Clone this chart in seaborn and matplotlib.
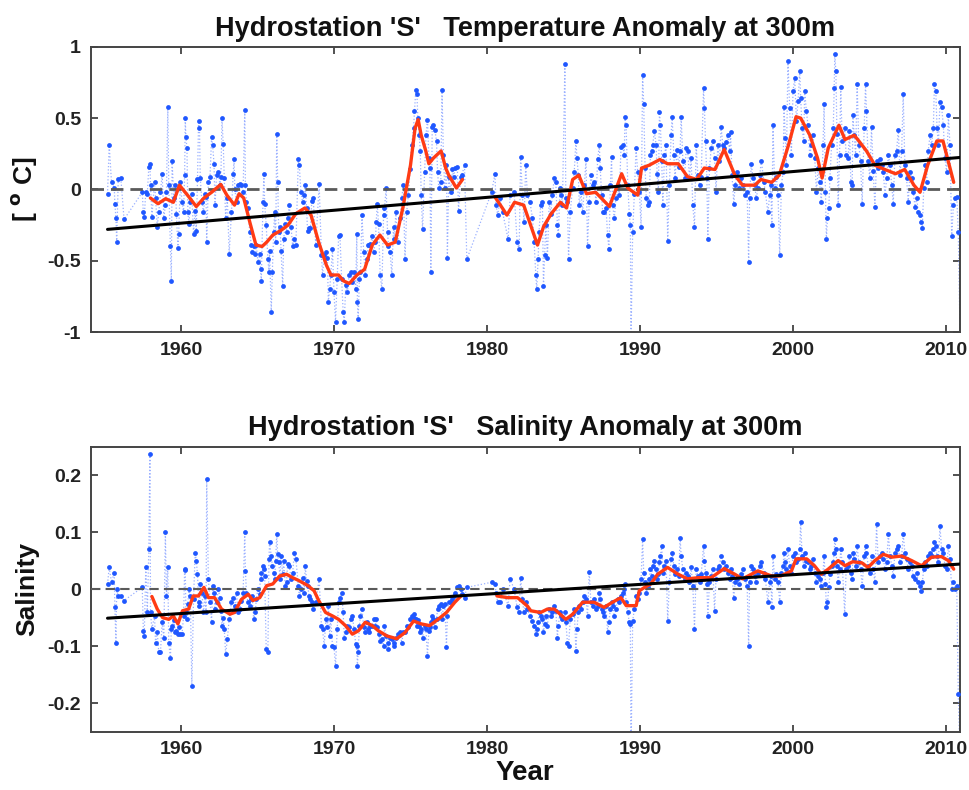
import numpy as np
import pandas as pd
import matplotlib
matplotlib.use("Agg")
import matplotlib.pyplot as plt
import seaborn as sns

# Hydrostation 'S' casts: sample time (decimal year), anomalies at 300 m
years = [
    1955.20, 1955.31, 1955.46, 1955.64, 1955.68, 1955.75, 1955.80, 1955.90, 1956.07, 1956.28,
    1957.47, 1957.54, 1957.60, 1957.70, 1957.80, 1957.90, 1957.97, 1958.01, 1958.10, 1958.27,
    1958.34, 1958.45, 1958.55, 1958.66, 1958.77, 1958.88, 1958.98, 1959.05, 1959.14, 1959.20,
    1959.31, 1959.37, 1959.42, 1959.53, 1959.64, 1959.70, 1959.80, 1959.85, 1959.96, 1960.07,
    1960.17, 1960.24, 1960.28, 1960.32, 1960.39, 1960.45, 1960.52, 1960.61, 1960.71, 1960.82,
    1960.93, 1961.00, 1961.08, 1961.15, 1961.21, 1961.26, 1961.37, 1961.47, 1961.58, 1961.64,
    1961.68, 1961.79, 1961.90, 1962.00, 1962.07, 1962.16, 1962.22, 1962.33, 1962.44, 1962.55,
    1962.61, 1962.68, 1962.76, 1962.83, 1962.92, 1963.03, 1963.15, 1963.30, 1963.41, 1963.47,
    1963.52, 1963.63, 1963.73, 1963.84, 1963.95, 1964.06, 1964.17, 1964.21, 1964.28,
    1964.38, 1964.49, 1964.60, 1964.66, 1964.75, 1964.86, 1964.92, 1965.03, 1965.14, 1965.20,
    1965.25, 1965.36, 1965.42, 1965.47, 1965.57, 1965.68, 1965.75, 1965.79, 1965.90, 1965.97,
    1966.06, 1966.12, 1966.19, 1966.26, 1966.32, 1966.39, 1966.48, 1966.54, 1966.65, 1966.71,
    1966.82, 1966.90, 1966.97, 1967.08, 1967.19, 1967.30, 1967.41, 1967.51, 1967.67, 1967.73,
    1967.84, 1967.95, 1968.06, 1968.12, 1968.21, 1968.27, 1968.38, 1968.46, 1968.55, 1968.64,
    1968.81, 1969.03, 1969.18, 1969.25, 1969.36, 1969.47, 1969.57, 1969.63, 1969.72, 1969.79,
    1969.90, 1970.00, 1970.10, 1970.21, 1970.30, 1970.39, 1970.50, 1970.60, 1970.67, 1970.77,
    1970.88, 1970.99, 1971.10, 1971.20, 1971.31, 1971.42, 1971.49, 1971.53, 1971.58, 1971.66,
    1971.73, 1971.83, 1971.94, 1972.05, 1972.16, 1972.23, 1972.32, 1972.38, 1972.48, 1972.59,
    1972.70, 1972.76, 1972.83, 1972.91, 1973.02, 1973.13, 1973.24, 1973.30, 1973.41, 1973.50,
    1973.56, 1973.67, 1973.78, 1973.89, 1973.95, 1974.04, 1974.17, 1974.32, 1974.43, 1974.53,
    1974.64, 1974.75, 1974.86, 1974.97, 1975.07, 1975.20, 1975.26, 1975.35, 1975.42, 1975.48,
    1975.57, 1975.64, 1975.70, 1975.79, 1975.92, 1976.01, 1976.11, 1976.20, 1976.27, 1976.33,
    1976.42, 1976.48, 1976.59, 1976.70, 1976.77, 1976.85, 1976.98, 1977.06, 1977.15, 1977.24,
    1977.35, 1977.41, 1977.50, 1977.63, 1977.74, 1977.82, 1977.93, 1978.06, 1978.14, 1978.27,
    1978.36, 1978.53, 1978.68,
    1980.30, 1980.52, 1980.59, 1980.70, 1980.87, 1981.02, 1981.38, 1981.51, 1981.77, 1981.97,
    1982.10, 1982.20, 1982.31, 1982.42,
    1982.53, 1982.64, 1982.81, 1982.97, 1983.08, 1983.19, 1983.25, 1983.34, 1983.40, 1983.51,
    1983.62, 1983.69, 1983.77, 1983.84, 1983.95, 1984.06, 1984.17, 1984.28, 1984.39, 1984.50,
    1984.60, 1984.66, 1984.77, 1984.86, 1984.93, 1985.09, 1985.15, 1985.26, 1985.33, 1985.44,
    1985.59, 1985.70, 1985.81, 1985.88, 1985.97, 1986.03, 1986.14, 1986.25, 1986.36, 1986.47,
    1986.57, 1986.68, 1986.79, 1986.90, 1987.01, 1987.12, 1987.23, 1987.34, 1987.40, 1987.49,
    1987.56, 1987.67, 1987.78, 1987.88, 1987.97, 1988.06, 1988.14, 1988.21, 1988.32, 1988.43,
    1988.54, 1988.65, 1988.76, 1988.86, 1988.97, 1989.02, 1989.09, 1989.20, 1989.30, 1989.37,
    1989.41, 1989.52, 1989.63, 1989.74, 1989.85, 1989.96, 1990.07,
    1990.17, 1990.24, 1990.33, 1990.41, 1990.50, 1990.61, 1990.68, 1990.76, 1990.83, 1990.94,
    1991.05, 1991.12, 1991.20, 1991.27, 1991.33, 1991.42, 1991.49, 1991.60, 1991.70, 1991.81,
    1991.92, 1992.03, 1992.10, 1992.21, 1992.29, 1992.42, 1992.53, 1992.62, 1992.69, 1992.80,
    1992.91, 1993.02, 1993.12, 1993.23, 1993.34, 1993.45, 1993.56, 1993.67, 1993.78, 1993.89,
    1994.00, 1994.15, 1994.21, 1994.28, 1994.37, 1994.43, 1994.54, 1994.65, 1994.76, 1994.87,
    1994.97, 1995.08, 1995.19, 1995.30, 1995.41, 1995.52, 1995.63, 1995.74, 1995.85, 1995.92,
    1996.01, 1996.13, 1996.22, 1996.35, 1996.50, 1996.61, 1996.72, 1996.83, 1997.00, 1997.10,
    1997.16, 1997.27, 1997.38, 1997.49, 1997.60, 1997.71, 1997.82, 1997.93, 1998.10, 1998.19,
    1998.36, 1998.47, 1998.54, 1998.62, 1998.69, 1998.80, 1998.91, 1999.02, 1999.13, 1999.24,
    1999.35, 1999.41, 1999.50, 1999.56, 1999.67, 1999.78, 1999.89, 2000.00, 2000.11, 2000.22,
    2000.33, 2000.44, 2000.50, 2000.59, 2000.70, 2000.76, 2000.87, 2000.98, 2001.09, 2001.20,
    2001.31, 2001.42, 2001.53, 2001.64, 2001.74, 2001.85, 2001.96, 2002.03, 2002.12, 2002.18,
    2002.25, 2002.34, 2002.41, 2002.52, 2002.63, 2002.69, 2002.73, 2002.80, 2002.87, 2002.95,
    2003.04, 2003.12, 2003.21, 2003.38, 2003.47, 2003.60, 2003.69, 2003.78, 2003.87, 2003.91,
    2004.00, 2004.09, 2004.19, 2004.30, 2004.41, 2004.52, 2004.65, 2004.74, 2004.80, 2004.91,
    2005.02, 2005.13, 2005.24, 2005.35, 2005.46, 2005.57, 2005.68, 2005.79, 2005.90, 2006.01,
    2006.12, 2006.23, 2006.34, 2006.45, 2006.55, 2006.66, 2006.77, 2006.88, 2006.99, 2007.10,
    2007.20, 2007.31, 2007.42, 2007.53, 2007.64, 2007.75, 2007.86, 2007.97, 2008.08, 2008.19,
    2008.30, 2008.36, 2008.45, 2008.54, 2008.62, 2008.73, 2008.84, 2008.95, 2009.06, 2009.17,
    2009.24, 2009.33, 2009.41, 2009.50, 2009.60, 2009.71, 2009.82, 2009.93, 2010.04, 2010.15,
    2010.26, 2010.37, 2010.48, 2010.59, 2010.70, 2010.80, 2010.92,
]

temp = [
    -0.03, 0.31, 0.05, 0.01, -0.10, -0.20, -0.37, 0.07, 0.08, -0.21,
    -0.02, -0.16, -0.19, -0.02, -0.03, 0.16, 0.18, 0.03, -0.19, 0.05,
    -0.06, -0.26, -0.16, -0.02, 0.11, -0.20, -0.11, -0.02, 0.58, 0.03,
    -0.40, -0.64, 0.20, -0.06, 0.03, -0.17, -0.41, -0.31, 0.05, -0.09,
    -0.16, 0.10, 0.50, 0.37, 0.29, -0.16, -0.24, -0.09, -0.03, -0.31,
    -0.15, -0.29, 0.07, 0.48, 0.43, 0.08, -0.09, -0.16, -0.03, -0.05,
    -0.37, 0.05, 0.09, 0.37, 0.31, 0.18, -0.11, 0.10, 0.12, 0.03,
    0.09, 0.50, 0.32, 0.08, -0.20, -0.06, -0.45, -0.16, 0.11, 0.21,
    0.00, -0.09, 0.03, 0.04, 0.03, -0.02, 0.56, 0.03, -0.09,
    -0.13, -0.30, -0.39, -0.44, -0.40, -0.45, -0.39, -0.51, -0.45, -0.56,
    -0.64, -0.09, 0.11, -0.10, -0.25, -0.49, -0.58, -0.43, -0.86, -0.58,
    -0.30, -0.16, -0.37, 0.39, 0.05, -0.30, -0.26, -0.43, -0.68, -0.35,
    -0.24, -0.30, -0.20, -0.11, -0.26, -0.40, -0.35, -0.39, 0.21, 0.17,
    -0.02, -0.09, -0.04, 0.03, -0.13, -0.29, -0.27, -0.27, -0.08, -0.06,
    -0.39, 0.04, -0.46, -0.60, -0.46, -0.44, -0.48, -0.79, -0.70, -0.60,
    -0.42, -0.72, -0.93, -0.63, -0.33, -0.32, -0.63, -0.86, -0.93, -0.67,
    -0.72, -0.60, -0.58, -0.65, -0.58, -0.70, -0.31, -0.79, -0.91, -0.63,
    -0.58, -0.18, -0.44, -0.60, -0.49, -0.39, -0.39, -0.38, -0.33, -0.44,
    -0.37, -0.23, -0.10, -0.24, -0.60, -0.70, -0.18, -0.13, 0.01, -0.30,
    -0.40, -0.44, -0.60, -0.26, -0.35, -0.16, -0.37, -0.20, -0.06, 0.03,
    -0.49, -0.16, -0.04, 0.14, 0.31, 0.43, 0.55, 0.70, 0.67, 0.50,
    0.38, 0.27, -0.04, -0.28, 0.12, 0.38, 0.49, 0.22, 0.15, -0.58,
    0.44, 0.45, 0.42, 0.34, 0.12, 0.01, 0.05, 0.70, 0.24, 0.01,
    0.17, -0.48, 0.09, -0.02, 0.14, 0.09, 0.15, 0.16, -0.15, 0.09,
    0.10, 0.17, -0.49,
    -0.02, 0.11, -0.11, -0.18, -0.06, -0.16, -0.35, -0.04, -0.02, -0.37,
    -0.42, 0.23, -0.04, -0.23,
    0.17, -0.04, -0.09, -0.20, -0.37, -0.60, -0.70, -0.49, -0.30, -0.11,
    -0.09, -0.68, -0.46, -0.25, -0.48, -0.09, -0.17, -0.04, 0.08, 0.05,
    -0.25, -0.32, 0.01, -0.04, -0.11, 0.88, -0.06, -0.09, -0.49, -0.16,
    0.01, 0.12, 0.34, 0.22, 0.10, -0.11, -0.02, -0.16, 0.03, 0.21,
    -0.40, -0.09, 0.10, 0.03, 0.05, -0.09, 0.21, 0.31, 0.15, -0.04,
    -0.16, -0.16, -0.13, -0.32, -0.42, 0.03, 0.23, -0.11, -0.20, -0.06,
    0.03, -0.04, 0.30, 0.31, 0.24, 0.51, 0.45, 0.03, -0.17, -0.25,
    -1.08, -0.30, -0.03, 0.29, 0.12, -0.02, -0.26,
    0.80, 0.60, 0.15, -0.06, -0.11, -0.09, 0.24, 0.27, 0.31, 0.41,
    0.31, 0.11, -0.02, 0.54, 0.45, 0.20, -0.11, 0.24, 0.31, -0.36,
    0.03, 0.38, 0.51, 0.24, 0.08, 0.28, 0.16, 0.27, 0.51, 0.20,
    0.08, 0.29, 0.27, 0.08, 0.22, -0.11, -0.26, 0.31, 0.10, 0.03,
    0.09, 0.71, 0.57, 0.34, 0.08, -0.35, 0.15, 0.29, 0.34, 0.22,
    -0.02, 0.31, 0.20, 0.44, 0.31, 0.29, 0.33, 0.38, 0.27, 0.40,
    0.10, -0.10, 0.03, 0.12, 0.01, 0.08, 0.03, -0.04, -0.02, -0.51,
    -0.06, 0.18, 0.08, 0.03, -0.06, 0.01, 0.10, 0.20, 0.05, -0.02,
    -0.16, -0.04, 0.03, -0.25, 0.45, 0.01, 0.09, -0.04, -0.46, 0.03,
    0.12, 0.58, 0.36, 0.17, 0.90, 0.57, 0.24, 0.69, 0.78, 0.48,
    0.62, 0.83, 0.64, 0.43, 0.34, 0.69, 0.55, 0.45, 0.24, 0.31,
    0.38, 0.22, -0.02, 0.15, 0.05, -0.09, 0.31, 0.60, -0.02, -0.35,
    -0.20, -0.13, 0.08, 0.31, 0.43, 0.71, 0.95, 0.83, 0.39, -0.11,
    0.24, 0.72, 0.34, 0.43, 0.24, 0.22, 0.41, 0.05, 0.03, 0.52,
    0.38, 0.24, 0.74, 0.31, 0.20, -0.10, 0.43, 0.74, 0.55, 0.20,
    0.08, 0.44, 0.13, -0.12, 0.20, 0.15, 0.21, 0.17, 0.12, -0.04,
    0.08, 0.24, 0.17, 0.03, -0.10, 0.24, 0.27, 0.42, 0.10, 0.27,
    0.67, 0.17, 0.08, -0.09, 0.12, 0.08, -0.02, -0.12, -0.06, -0.16,
    -0.18, -0.23, -0.27, 0.01, 0.17, 0.05, 0.27, 0.38, 0.31, 0.43,
    0.74, 0.69, 0.43, 0.31, 0.61, 0.58, 0.45, 0.22, 0.12, 0.52,
    0.31, -0.33, -0.11, -0.06, -0.05, -0.30, -1.05,
]

salt = [
    0.009, 0.038, 0.012, 0.029, -0.032, -0.094, 0.000, -0.012, -0.012, -0.020,
    0.003, -0.073, -0.082, 0.038, -0.041, 0.070, 0.237, -0.041, -0.070, -0.047,
    -0.094, -0.076, -0.111, -0.111, -0.058, -0.085, 0.100, -0.012, 0.038, -0.094,
    -0.120, -0.070, -0.064, -0.055, -0.076, -0.073, -0.079, -0.067, -0.079, -0.079,
    -0.047, 0.035, 0.034, -0.041, -0.053, -0.026, 0.000, -0.012, -0.170, -0.018,
    0.064, 0.050, 0.026, -0.023, -0.029, 0.009, -0.006, -0.041, -0.012, -0.041,
    0.193, 0.018, -0.023, -0.058, 0.006, -0.006, -0.035, -0.023, 0.000, -0.015,
    -0.038, -0.064, -0.050, -0.070, -0.114, -0.088, -0.053, -0.023, -0.015, -0.038,
    -0.029, -0.006, -0.041, -0.035, -0.020, -0.006, 0.100, 0.032, -0.006,
    -0.023, -0.029, -0.018, -0.012, -0.053, -0.041, -0.018, 0.000, -0.009, 0.029,
    0.018, 0.041, 0.035, 0.023, -0.105, -0.111, 0.053, 0.082, 0.058, 0.041,
    0.029, 0.018, 0.050, 0.097, 0.061, 0.047, 0.018, 0.058, 0.026, 0.050,
    0.006, 0.012, 0.044, 0.041, 0.018, 0.029, 0.064, 0.053, 0.006, -0.012,
    0.000, 0.020, -0.006, 0.041, 0.015, 0.006, -0.012, -0.018, -0.023, -0.035,
    -0.023, 0.018, -0.064, -0.070, -0.099, -0.053, -0.067, -0.029, -0.082, -0.053,
    -0.099, -0.101, -0.135, -0.070, -0.023, -0.015, -0.006, -0.041, -0.085, -0.076,
    -0.064, -0.067, -0.053, -0.047, -0.070, -0.096, -0.099, -0.135, -0.111, -0.064,
    -0.047, -0.035, -0.067, -0.076, -0.058, -0.070, -0.076, -0.064, -0.064, -0.053,
    -0.064, -0.053, -0.067, -0.079, -0.091, -0.088, -0.099, -0.064, -0.082, -0.094,
    -0.105, -0.085, -0.088, -0.099, -0.094, -0.085, -0.079, -0.076, -0.094, -0.076,
    -0.076, -0.064, -0.067, -0.053, -0.047, -0.044, -0.050, -0.053, -0.064, -0.055,
    -0.064, -0.076, -0.070, -0.085, -0.064, -0.070, -0.117, -0.073, -0.067, -0.058,
    -0.047, -0.053, -0.067, -0.053, -0.035, -0.029, -0.026, -0.052, -0.030, -0.026,
    -0.102, -0.047, -0.023, -0.023, -0.018, -0.012, -0.006, 0.003, 0.006, 0.000,
    -0.009, -0.015, 0.003,
    0.012, 0.009, -0.006, -0.023, -0.023, 0.000, -0.029, 0.018, 0.000, -0.032,
    -0.041, 0.020, -0.018, -0.041,
    -0.023, -0.035, -0.047, -0.056, -0.064, -0.079, -0.070, -0.058, -0.041, -0.047,
    -0.053, -0.076, -0.061, -0.047, -0.064, -0.035, -0.047, -0.041, -0.029, -0.038,
    -0.085, -0.064, -0.041, -0.047, -0.053, -0.041, -0.058, -0.094, -0.099, -0.053,
    -0.044, -0.035, -0.108, -0.070, -0.041, -0.029, -0.035, -0.023, -0.012, -0.018,
    -0.047, 0.030, -0.023, -0.029, -0.018, -0.035, -0.029, -0.006, -0.018, -0.035,
    -0.041, -0.047, -0.029, -0.076, -0.058, -0.035, -0.023, -0.029, -0.047, -0.035,
    -0.018, -0.023, -0.012, -0.006, 0.000, 0.009, -0.023, -0.041, -0.058, -0.061,
    -0.300, -0.056, -0.035, -0.012, -0.018, -0.006, 0.018,
    0.088, 0.029, 0.012, -0.006, 0.003, 0.018, 0.035, 0.023, 0.041, 0.050,
    0.035, 0.018, 0.026, 0.047, 0.058, 0.076, 0.029, 0.041, 0.050, -0.056,
    0.012, 0.053, 0.064, 0.041, 0.026, 0.035, 0.023, 0.090, 0.058, 0.035,
    0.018, 0.029, 0.023, 0.012, 0.038, 0.006, -0.070, 0.035, 0.023, 0.012,
    0.026, 0.076, 0.050, 0.029, 0.009, -0.047, 0.012, 0.023, 0.035, -0.038,
    0.018, 0.035, 0.041, 0.058, 0.047, 0.035, 0.041, 0.029, 0.018, 0.035,
    0.023, -0.015, 0.012, 0.018, 0.009, 0.026, 0.035, 0.018, 0.006, -0.100,
    0.012, 0.041, 0.035, 0.023, 0.012, 0.029, 0.041, 0.047, 0.029, 0.018,
    -0.023, 0.012, 0.023, -0.032, 0.058, 0.018, 0.026, 0.012, -0.023, 0.029,
    0.041, 0.064, 0.047, 0.035, 0.070, 0.041, 0.029, 0.058, 0.064, 0.047,
    0.053, 0.070, 0.118, 0.058, 0.041, 0.064, 0.050, 0.047, 0.035, 0.041,
    0.053, 0.029, 0.012, 0.023, 0.018, 0.006, 0.029, 0.058, 0.009, -0.032,
    -0.023, 0.003, 0.026, 0.041, 0.047, 0.064, 0.088, 0.070, 0.041, 0.012,
    0.035, 0.070, 0.047, -0.044, 0.035, 0.041, 0.058, 0.029, 0.018, 0.064,
    0.053, 0.041, 0.076, 0.047, 0.035, 0.006, 0.058, 0.076, 0.064, 0.041,
    0.029, 0.058, 0.035, 0.012, 0.114, 0.047, 0.058, 0.064, 0.053, 0.035,
    0.047, 0.097, 0.058, 0.041, 0.023, 0.064, 0.070, 0.076, 0.047, 0.058,
    0.097, 0.064, 0.053, 0.035, 0.047, 0.041, 0.023, 0.018, 0.029, 0.012,
    0.006, -0.003, 0.012, 0.035, 0.047, 0.041, 0.058, 0.064, 0.058, 0.070,
    0.082, 0.076, 0.058, 0.047, 0.111, 0.070, 0.064, 0.041, 0.035, 0.076,
    0.053, 0.000, 0.012, 0.000, 0.006, -0.184, -0.300,
]

# running means (red curves), gap 1978-1980
temp_run_years = [
    1958.0, 1958.5, 1959.0, 1959.5, 1959.9, 1960.5, 1961.0, 1961.5, 1962.0, 1962.6,
    1963.0, 1963.5, 1963.8, 1964.1, 1964.5, 1964.9, 1965.3, 1965.6, 1966.0, 1966.5,
    1967.0, 1967.5, 1968.1, 1968.5, 1969.0, 1969.5, 1969.8, 1970.3, 1970.6, 1971.0,
    1971.5, 1972.0, 1972.5, 1973.0, 1973.5, 1974.0, 1974.5, 1975.0, 1975.3, 1975.5,
    1975.7, 1976.0, 1976.2, 1976.5, 1977.0, 1977.3, 1977.5, 1978.0, 1978.4,
    1980.5, 1981.0, 1981.3, 1981.8, 1982.4, 1983.3, 1983.7, 1984.2, 1984.8, 1985.2,
    1985.6, 1986.0, 1986.5, 1987.1, 1988.0, 1988.8, 1989.2, 1989.85, 1990.1, 1990.6,
    1991.3, 1991.8, 1992.5, 1993.1, 1993.7, 1994.2, 1994.9, 1995.5, 1996.2, 1996.7,
    1997.5, 1997.9, 1998.6, 1999.1, 1999.7, 2000.2, 2000.5, 2001.1, 2001.6, 2001.9,
    2002.3, 2003.0, 2003.4, 2004.0, 2004.3, 2004.8, 2005.35, 2006.0, 2006.7, 2007.3,
    2007.9, 2008.3, 2008.8, 2009.4, 2009.8, 2010.5,
]
temp_run = [
    -0.06, -0.10, -0.065, -0.09, 0.03, -0.05, -0.12, -0.06, -0.02, 0.035,
    -0.04, -0.11, -0.03, -0.06, -0.23, -0.39, -0.40, -0.37, -0.32, -0.29,
    -0.25, -0.17, -0.13, -0.18, -0.37, -0.53, -0.60, -0.60, -0.64, -0.66,
    -0.60, -0.56, -0.39, -0.32, -0.39, -0.37, -0.13, 0.17, 0.43, 0.49,
    0.38, 0.27, 0.18, 0.22, 0.27, 0.15, 0.10, 0.01, 0.07,
    -0.05, -0.13, -0.18, -0.09, -0.11, -0.39, -0.26, -0.17, -0.09, -0.13,
    0.07, 0.10, -0.03, -0.02, -0.12, 0.11, 0.01, -0.04, 0.15, 0.17,
    0.21, 0.18, 0.18, 0.09, 0.07, 0.15, 0.14, 0.28, 0.10, 0.03,
    0.03, 0.07, 0.05, 0.10, 0.31, 0.51, 0.50, 0.38, 0.22, 0.08,
    0.29, 0.45, 0.35, 0.38, 0.34, 0.27, 0.17, 0.14, 0.11, 0.14,
    0.03, -0.02, 0.17, 0.34, 0.34, 0.05,
]

salt_run_years = [
    1958.1, 1958.45, 1958.8, 1959.2, 1959.5, 1959.8, 1960.1, 1960.5, 1960.8, 1961.15,
    1961.5, 1961.8, 1962.2, 1962.65, 1963.2, 1963.5, 1963.95, 1964.4, 1964.7, 1965.15,
    1965.6, 1966.0, 1966.45, 1966.9, 1967.3, 1967.7, 1968.3, 1968.7, 1969.0, 1969.45,
    1969.9, 1970.3, 1970.75, 1971.2, 1971.6, 1972.05, 1972.5, 1972.9, 1973.45, 1974.1,
    1974.65, 1975.2, 1975.7, 1976.25, 1976.8, 1977.35, 1977.9, 1978.3,
    1980.65, 1981.35, 1982.0, 1982.65, 1982.86, 1983.5, 1983.95, 1984.4, 1985.15, 1985.6,
    1986.25, 1987.0, 1987.65, 1988.2, 1988.75, 1989.1, 1989.75, 1989.95, 1990.3, 1990.7,
    1991.15, 1991.8, 1992.5, 1993.1, 1993.8, 1994.65, 1995.5, 1996.2, 1996.7, 1997.7,
    1998.6, 1999.2, 1999.9, 2000.2, 2000.9, 2001.4, 2001.85, 2002.3, 2002.95, 2003.4,
    2003.9, 2004.5, 2004.9, 2005.35, 2005.9, 2006.45, 2007.1, 2007.75, 2008.4, 2009.05,
    2009.7, 2010.15, 2010.5,
]
salt_run = [
    -0.013, -0.035, -0.05, -0.053, -0.047, -0.061, -0.038, -0.035, -0.012, -0.012,
    0.003, -0.015, -0.015, -0.035, -0.044, -0.041, -0.018, -0.009, -0.02, -0.015,
    0.006, 0.009, 0.023, 0.026, 0.02, 0.015, 0.006, -0.003, -0.02, -0.041,
    -0.047, -0.053, -0.064, -0.079, -0.073, -0.058, -0.064, -0.073, -0.082, -0.087,
    -0.076, -0.056, -0.061, -0.064, -0.053, -0.041, -0.023, -0.012,
    -0.012, -0.015, -0.015, -0.03, -0.038, -0.041, -0.035, -0.035, -0.053, -0.044,
    -0.023, -0.023, -0.032, -0.023, -0.015, -0.029, -0.029, -0.003, 0.003, 0.009,
    0.026, 0.038, 0.026, 0.018, 0.02, 0.02, 0.036, 0.026, 0.018, 0.032,
    0.023, 0.023, 0.032, 0.053, 0.053, 0.041, 0.026, 0.035, 0.05, 0.041,
    0.048, 0.046, 0.038, 0.05, 0.061, 0.056, 0.058, 0.05, 0.041, 0.056,
    0.057, 0.05, 0.035,
]

# linear trends
trend_years = [1955.2, 2011.0]
temp_trend = [-0.28, 0.225]
salt_trend = [-0.051, 0.044]

assert len(years) == len(temp) == len(salt)
assert len(temp_run_years) == len(temp_run)
assert len(salt_run_years) == len(salt_run)

sns.set_theme(style="ticks")
plt.rcParams["font.family"] = ["Liberation Sans", "DejaVu Sans"]
plt.rcParams["font.weight"] = "bold"
plt.rcParams["axes.unicode_minus"] = False
plt.rcParams["mathtext.default"] = "bf"

fig = plt.figure(figsize=(9.7, 7.9), dpi=100)
ax1 = fig.add_axes([0.0935, 0.5797, 0.896, 0.361])
ax2 = fig.add_axes([0.0935, 0.0738, 0.896, 0.361])


def draw_panel(ax, vals, run_years, run_vals, trend_vals, title, ylim, yticks, yticklabels, ylabel, zero_lw):
    obs = pd.DataFrame({"year": years, "val": vals})
    sns.lineplot(data=obs, x="year", y="val", ax=ax, sort=False, estimator=None,
                 color="#6f8fff", lw=0.9, linestyle=":", alpha=0.7, zorder=2)
    sns.scatterplot(data=obs, x="year", y="val", ax=ax, s=12, color="#1f57ff",
                    linewidth=0, zorder=3)
    ax.axhline(0, color="#5a5a5a", lw=zero_lw, ls=(0, (4.5, 2.5)), zorder=4)

    run = pd.DataFrame({"year": run_years, "val": run_vals})
    run["seg"] = np.concatenate([[0], np.cumsum(np.diff(run["year"]) > 1.5)])
    sns.lineplot(data=run, x="year", y="val", units="seg", estimator=None, ax=ax,
                 color="#ff3b14", lw=2.4, zorder=5)
    sns.lineplot(x=trend_years, y=trend_vals, ax=ax, color="black", lw=2.2, zorder=6)

    ax.set_xlim(1954.1, 2010.9)
    ax.set_ylim(*ylim)
    ax.set_xticks([1960, 1970, 1980, 1990, 2000, 2010],
                  ["1960", "1970", "1980", "1990", "2000", "2010"])
    ax.set_yticks(yticks, yticklabels)
    ax.tick_params(axis="both", direction="in", top=True, right=True, length=5,
                   width=1.2, labelsize=14, pad=7, colors="#333333", labelcolor="#222222")
    for sp in ax.spines.values():
        sp.set_linewidth(1.4)
        sp.set_color("#444444")
    ax.set_title(title, fontsize=19.5, fontweight="bold", pad=8, color="#111111")
    ax.set_ylabel(ylabel, fontsize=19, fontweight="bold", labelpad=6, color="#111111")
    ax.set_xlabel("")


draw_panel(ax1, temp, temp_run_years, temp_run, temp_trend,
           "Hydrostation 'S'   Temperature Anomaly at 300m",
           (-1, 1), [-1, -0.5, 0, 0.5, 1], ["-1", "-0.5", "0", "0.5", "1"],
           r"[ $^{o}$ C]", 2.0)
draw_panel(ax2, salt, salt_run_years, salt_run, salt_trend,
           "Hydrostation 'S'   Salinity Anomaly at 300m",
           (-0.25, 0.25), [-0.2, -0.1, 0, 0.1, 0.2], ["-0.2", "-0.1", "0", "0.1", "0.2"],
           "Salinity", 1.5)
ax2.set_xlabel("Year", fontsize=20, fontweight="bold", labelpad=1, color="#111111")

fig.savefig("out.png", dpi=100, facecolor="white")
